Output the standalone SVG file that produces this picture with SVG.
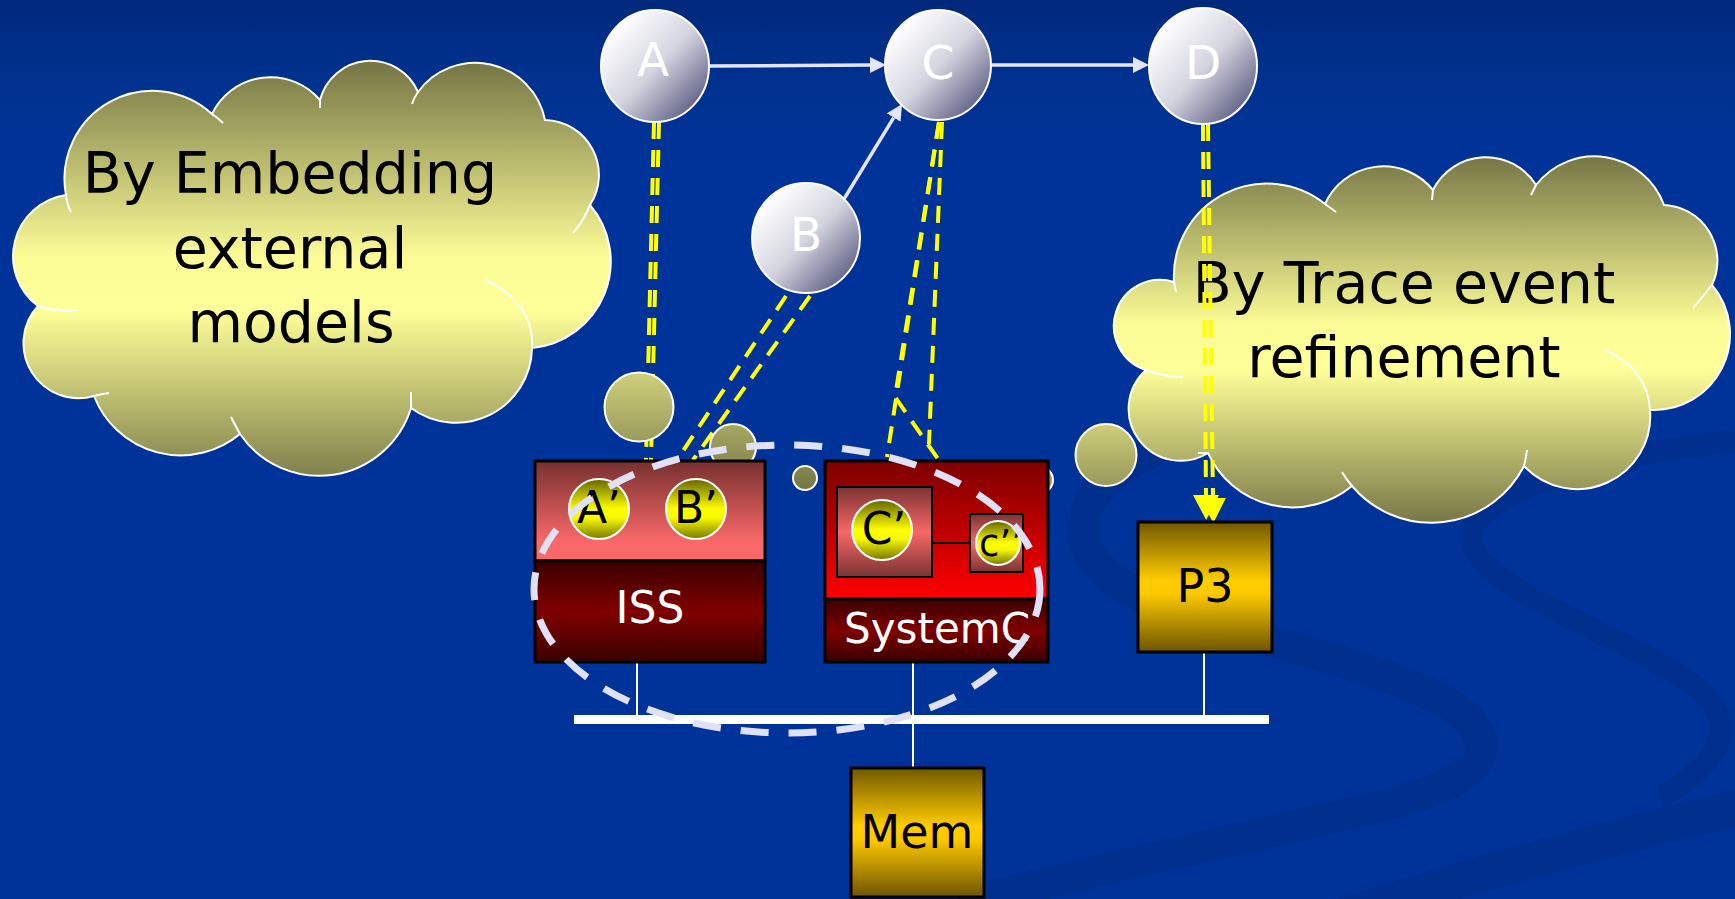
<svg xmlns="http://www.w3.org/2000/svg" width="1735" height="899" viewBox="0 0 1735 899">
  <defs>
    <linearGradient id="bg" x1="0" y1="0" x2="0" y2="1">
      <stop offset="0" stop-color="#00287c"/>
      <stop offset="0.04" stop-color="#002d86"/>
      <stop offset="0.1" stop-color="#003291"/>
      <stop offset="0.18" stop-color="#003399"/>
      <stop offset="1" stop-color="#003399"/>
    </linearGradient>
    <linearGradient id="cloudL" gradientUnits="userSpaceOnUse" x1="0" y1="62" x2="0" y2="490">
      <stop offset="0" stop-color="#757545"/>
      <stop offset="0.46" stop-color="#fcfc97"/>
      <stop offset="0.58" stop-color="#ffff99"/>
      <stop offset="1" stop-color="#757545"/>
    </linearGradient>
    <linearGradient id="cloudR" gradientUnits="userSpaceOnUse" x1="0" y1="155" x2="0" y2="525">
      <stop offset="0" stop-color="#757545"/>
      <stop offset="0.46" stop-color="#fcfc97"/>
      <stop offset="0.58" stop-color="#ffff99"/>
      <stop offset="1" stop-color="#757545"/>
    </linearGradient>
    <linearGradient id="nodeFill" x1="0.15" y1="0.15" x2="0.95" y2="0.95">
      <stop offset="0" stop-color="#ffffff"/>
      <stop offset="0.45" stop-color="#d4d4e0"/>
      <stop offset="1" stop-color="#4a4a74"/>
    </linearGradient>
    <linearGradient id="yel" x1="0" y1="0" x2="0" y2="1">
      <stop offset="0" stop-color="#666600"/>
      <stop offset="0.5" stop-color="#ffff00"/>
      <stop offset="0.65" stop-color="#f8f800"/>
      <stop offset="1" stop-color="#777700"/>
    </linearGradient>
    <linearGradient id="gold" x1="0" y1="0" x2="0" y2="1">
      <stop offset="0" stop-color="#715700"/>
      <stop offset="0.45" stop-color="#ffcc00"/>
      <stop offset="0.55" stop-color="#fcc900"/>
      <stop offset="1" stop-color="#6e5400"/>
    </linearGradient>
    <linearGradient id="pinkTop" x1="0" y1="0" x2="0" y2="1">
      <stop offset="0" stop-color="#773030"/>
      <stop offset="0.8" stop-color="#f96868"/>
      <stop offset="1" stop-color="#fb6a6a"/>
    </linearGradient>
    <linearGradient id="pinkMid" x1="0" y1="0" x2="0" y2="1">
      <stop offset="0" stop-color="#7a3333"/>
      <stop offset="0.5" stop-color="#f86868"/>
      <stop offset="1" stop-color="#7a3333"/>
    </linearGradient>
    <linearGradient id="redTop" x1="0" y1="0" x2="0" y2="1">
      <stop offset="0" stop-color="#7d0000"/>
      <stop offset="1" stop-color="#ff0000"/>
    </linearGradient>
    <linearGradient id="darkRed" x1="0" y1="0" x2="0" y2="1">
      <stop offset="0" stop-color="#3a0000"/>
      <stop offset="0.5" stop-color="#800000"/>
      <stop offset="1" stop-color="#3a0000"/>
    </linearGradient>
    <marker id="arrowW" markerUnits="userSpaceOnUse" markerWidth="16" markerHeight="16" viewBox="0 0 16 16" refX="0" refY="8" orient="auto">
      <path d="M0,0 L16,8 L0,16 Z" fill="#e4e4fa"/>
    </marker>
    <marker id="arrowY" markerUnits="userSpaceOnUse" markerWidth="25" markerHeight="26" viewBox="0 0 25 26" refX="0" refY="13" orient="auto">
      <path d="M0,0 L25,13 L0,26 Z" fill="#ffff00"/>
    </marker>
  </defs>
  <style>
    text { font-family: "DejaVu Sans", Verdana, sans-serif; }
    .cloud-text { font-size: 57px; fill: #000; text-anchor: middle; }
    .node-ring { fill: url(#nodeFill); stroke: #ffffff; stroke-width: 2; }
    .node-text { font-size: 47px; fill: #ffffff; text-anchor: middle; }
    .cloud-edge { stroke: #ffffff; stroke-width: 2; }
    .stub { fill: none; stroke: #ffffff; stroke-width: 2; }
    .box { stroke: #000000; stroke-width: 3; }
    .inner-box { stroke: #000000; stroke-width: 2; }
    .ball { fill: url(#yel); stroke: #ffffff; stroke-width: 2; }
    .ball-text { font-size: 44px; fill: #000; text-anchor: middle; }
    .box-text { font-size: 44px; fill: #fff; text-anchor: middle; }
    .mod-text { font-size: 46px; fill: #000; text-anchor: middle; }
    .flow { stroke: #e4e4fa; stroke-width: 3.5; fill: none; marker-end: url(#arrowW); }
    .map { stroke: #ffff00; stroke-width: 4; fill: none; stroke-dasharray: 17 11; }
    .wire { stroke: #ffffff; stroke-width: 2; }
    .swoosh { fill: none; stroke: #002f8d; }
  </style>

  <!-- backdrop -->
  <rect width="1735" height="899" fill="url(#bg)"/>
  <g id="backdrop-swooshes">
    <path class="swoosh" stroke-width="32" d="M1180,440 C1090,470 1040,540 1130,590 C1230,640 1420,670 1470,720 C1510,770 1440,795 1330,818 C1200,848 1050,880 960,905"/>
    <path class="swoosh" stroke-width="36" d="M1300,930 C1450,880 1600,840 1745,806"/>
    <path class="swoosh" stroke-width="22" d="M1745,440 C1600,455 1480,490 1470,535 C1470,590 1640,640 1700,690 C1745,730 1710,770 1660,797"/>
  </g>

  <!-- right thought cloud (beneath the trace arrows) -->
  <g id="cloud-trace">
    <circle cx="1040" cy="480" r="13" fill="url(#cloudR)" class="cloud-edge"/>
    <ellipse cx="1106" cy="455" rx="30.5" ry="31" fill="url(#cloudR)" class="cloud-edge"/>
    <path fill="url(#cloudR)" class="cloud-edge" d="M1146,370 A46,46 0 0 1 1174,282 A93,93 0 0 1 1325,204 A64,64 0 0 1 1433,190 A59,59 0 0 1 1536,185 A74,74 0 0 1 1664,205 A56,56 0 0 1 1712,285 A76,76 0 0 1 1650,410 A73,73 0 0 1 1524,466 A104,104 0 0 1 1352,486 A93,93 0 0 1 1208,453 A52,52 0 0 1 1146,370 Z"/>
    <path class="stub" d="M1174,282 L1176,292 M1325,204 L1336,212 M1433,190 L1432,200 M1536,185 L1531,195 M1712,285 Q1700,300 1693,308 M1650,410 Q1648,370 1605,350 M1524,466 Q1526,458 1527,450 M1352,486 Q1346,479 1342,472 M1208,453 Q1203,453 1198,453 M1146,370 Q1165,377 1183,377"/>
    <text class="cloud-text" x="1404" y="303">By Trace event</text>
    <text class="cloud-text" x="1404" y="377">refinement</text>
  </g>

  <!-- connectors: model flow and refinement mappings -->
  <g id="connectors">
    <line class="flow" x1="709" y1="66" x2="870" y2="65"/>
    <line class="flow" x1="844" y1="199" x2="893.7" y2="117.6"/>
    <line class="flow" x1="992" y1="65" x2="1133" y2="65"/>
    <line class="map" x1="654" y1="122" x2="646" y2="460"/>
    <line class="map" x1="659" y1="122" x2="651" y2="460"/>
    <line class="map" x1="786" y1="296" x2="677" y2="460"/>
    <line class="map" x1="810" y1="296" x2="693" y2="460"/>
    <line class="map" x1="939" y1="122" x2="887" y2="457"/>
    <line class="map" x1="942" y1="122" x2="929" y2="444"/>
    <polyline class="map" points="939,122 895,397 938,459"/>
    <line class="map" x1="1203" y1="124" x2="1206" y2="495" marker-end="url(#arrowY)"/>
    <line class="map" x1="1208" y1="124" x2="1213" y2="498" marker-end="url(#arrowY)"/>
  </g>

  <!-- left thought cloud -->
  <g id="cloud-embed">
    <path fill="url(#cloudL)" class="cloud-edge" d="M38,306 A62,62 0 0 1 66,195 A88,88 0 0 1 212,114 A65,65 0 0 1 320,100 A52,52 0 0 1 418,92 A71,71 0 0 1 545,120 A55,55 0 0 1 590,205 A87,87 0 0 1 532,348 A76,76 0 0 1 411,408 A96,96 0 0 1 240,434 A93,93 0 0 1 94,396 A55,55 0 0 1 38,306 Z"/>
    <path class="stub" d="M38,306 Q58,312 77,310 M66,195 Q67,205 71,212 M212,114 Q218,118 223,123 M320,100 L320,108 M418,92 Q414,98 412,104 M590,205 Q583,222 573,233 M532,348 Q535,305 486,280 M411,408 L411,392 M240,434 Q235,425 231,417 M94,396 Q101,394 109,393"/>
    <circle cx="639" cy="407" r="34.5" fill="url(#cloudL)" class="cloud-edge"/>
    <circle cx="733" cy="447" r="23" fill="url(#cloudL)" class="cloud-edge"/>
    <circle cx="805" cy="478" r="12" fill="url(#cloudL)" class="cloud-edge"/>
    <text class="cloud-text" x="290" y="193">By Embedding</text>
    <text class="cloud-text" x="290" y="268">external</text>
    <text class="cloud-text" x="291" y="342">models</text>
  </g>

  <!-- bus and its taps -->
  <g id="bus">
    <line class="wire" x1="637" y1="662" x2="637" y2="716"/>
    <line class="wire" x1="913" y1="662" x2="913" y2="768"/>
    <line class="wire" x1="1204" y1="652" x2="1204" y2="716"/>
    <rect x="574" y="715" width="695" height="9" fill="#ffffff"/>
  </g>

  <g id="node-ISS">
    <rect class="box" x="535" y="461" width="230" height="100" fill="url(#pinkTop)"/>
    <rect class="box" x="535" y="561" width="230" height="101" fill="url(#darkRed)"/>
    <circle class="ball" cx="599" cy="509" r="30"/>
    <text class="ball-text" x="599" y="523">A’</text>
    <circle class="ball" cx="696" cy="509" r="30"/>
    <text class="ball-text" x="696" y="523">B’</text>
    <text class="box-text" x="650" y="623">ISS</text>
  </g>

  <g id="node-SystemC">
    <rect class="box" x="825" y="461" width="223" height="138" fill="url(#redTop)"/>
    <rect class="box" x="825" y="599" width="223" height="63" fill="url(#darkRed)"/>
    <line x1="932" y1="543" x2="970" y2="543" stroke="#000" stroke-width="2"/>
    <rect class="inner-box" x="837" y="487" width="95" height="90" fill="url(#pinkMid)"/>
    <circle class="ball" cx="882" cy="530" r="30"/>
    <text class="ball-text" x="884" y="544">C’</text>
    <rect class="inner-box" x="970" y="514" width="53" height="58" fill="url(#pinkMid)"/>
    <circle class="ball" cx="998" cy="543" r="22"/>
    <text class="ball-text" x="1001" y="556" style="font-size:37px">c’’</text>
    <text class="box-text" x="937" y="643" style="font-size:42px">SystemC</text>
  </g>

  <g id="node-P3">
    <rect class="box" x="1138" y="522" width="134" height="130" fill="url(#gold)"/>
    <text class="mod-text" x="1205" y="602">P3</text>
  </g>

  <g id="node-Mem">
    <rect class="box" x="851" y="768" width="133" height="129" fill="url(#gold)"/>
    <text class="mod-text" x="917" y="848">Mem</text>
  </g>

  <!-- dashed grouping around the embedded models -->
  <g id="embedding-group">
    <ellipse cx="787" cy="589" rx="253" ry="144" fill="none" stroke="#e0e0f6" stroke-width="7" stroke-dasharray="28 20"/>
  </g>

  <g id="node-A">
    <ellipse class="node-ring" cx="655" cy="66" rx="54" ry="56"/>
    <text class="node-text" x="653" y="76">A</text>
  </g>
  <g id="node-B">
    <ellipse class="node-ring" cx="806" cy="238" rx="54" ry="55"/>
    <text class="node-text" x="806" y="251">B</text>
  </g>
  <g id="node-C">
    <ellipse class="node-ring" cx="938" cy="65" rx="53" ry="55"/>
    <text class="node-text" x="938" y="79">C</text>
  </g>
  <g id="node-D">
    <ellipse class="node-ring" cx="1203" cy="66" rx="54" ry="58"/>
    <text class="node-text" x="1203" y="79">D</text>
  </g>
</svg>
